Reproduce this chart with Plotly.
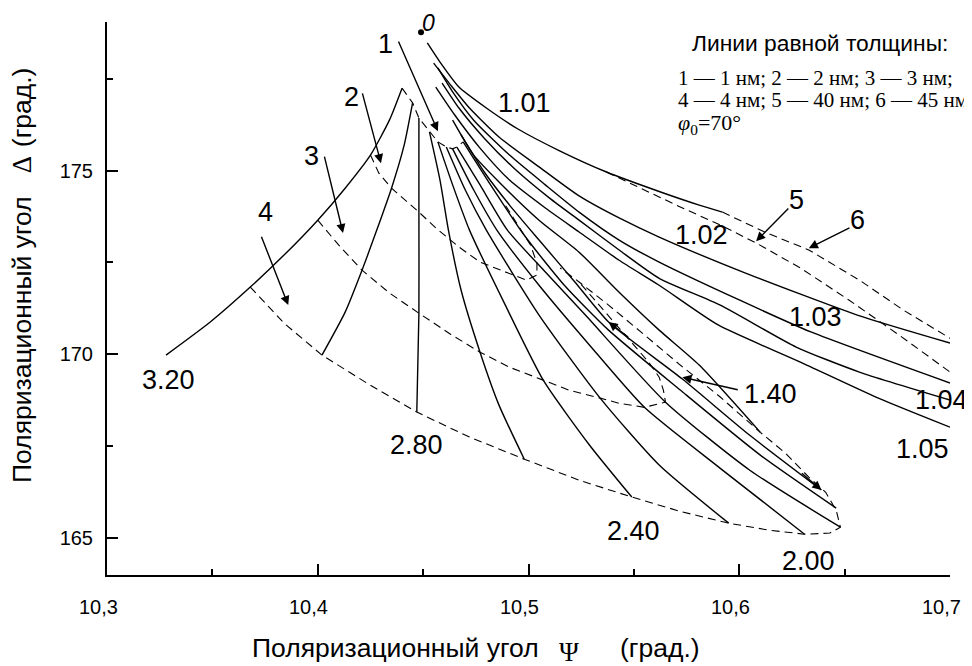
import plotly.graph_objects as go

SANS = "Liberation Sans, Arial, sans-serif"
SERIF = "Liberation Serif, Times New Roman, serif"

# ---------------- data (Psi, Delta in degrees) ----------------
# point 0 (bare substrate)
psi_0 = [10.449]
delta_0 = [178.76]

# lines of equal refractive index n (solid)
psi_n101 = [10.452, 10.458, 10.467, 10.480, 10.495, 10.515, 10.537, 10.563, 10.581, 10.592]
delta_n101 = [178.47, 177.95, 177.27, 176.70, 176.13, 175.53, 174.96, 174.41, 174.06, 173.87]

psi_n102 = [10.455, 10.463, 10.472, 10.486, 10.505, 10.524, 10.543, 10.562, 10.603, 10.656, 10.700]
delta_n102 = [177.92, 177.33, 176.70, 175.91, 175.10, 174.31, 173.71, 173.19, 172.21, 171.07, 170.31]

psi_n103 = [10.457, 10.464, 10.474, 10.491, 10.508, 10.524, 10.543, 10.562, 10.600, 10.634, 10.700]
delta_n103 = [177.79, 177.14, 176.37, 175.42, 174.61, 173.87, 173.11, 172.51, 171.48, 170.61, 169.22]

psi_n104 = [10.459, 10.467, 10.479, 10.493, 10.510, 10.524, 10.543, 10.562, 10.591, 10.627, 10.657, 10.700]
delta_n104 = [177.38, 176.70, 175.88, 175.07, 174.25, 173.65, 172.84, 172.07, 171.34, 170.20, 169.52, 168.76]

psi_n105 = [10.456, 10.465, 10.477, 10.491, 10.508, 10.524, 10.543, 10.562, 10.590, 10.629, 10.666, 10.700]
delta_n105 = [177.27, 176.51, 175.61, 174.74, 173.98, 173.33, 172.56, 171.88, 170.80, 169.79, 168.81, 168.02]

psi_n120 = [10.464, 10.474, 10.486, 10.505, 10.524, 10.543, 10.562, 10.581, 10.610]
delta_n120 = [176.37, 175.42, 174.69, 173.65, 172.78, 171.69, 170.66, 169.71, 167.88]

psi_n140 = [10.468, 10.479, 10.491, 10.505, 10.522, 10.538, 10.573, 10.605, 10.639]
delta_n140 = [175.97, 174.96, 174.06, 173.11, 171.97, 170.88, 169.33, 167.80, 166.31]

psi_n160 = [10.469, 10.482, 10.498, 10.517, 10.538, 10.572, 10.610, 10.646]
delta_n160 = [175.78, 174.61, 173.24, 171.88, 170.66, 169.03, 167.26, 165.82]

psi_n180 = [10.466, 10.477, 10.490, 10.508, 10.527, 10.565, 10.605, 10.648]
delta_n180 = [175.64, 174.61, 173.38, 172.24, 171.07, 168.70, 166.85, 165.30]

psi_n200 = [10.464, 10.474, 10.485, 10.505, 10.529, 10.555, 10.591, 10.631]
delta_n200 = [175.59, 174.47, 173.38, 171.88, 170.25, 168.56, 166.90, 165.11]

psi_n220 = [10.461, 10.470, 10.480, 10.505, 10.534, 10.562, 10.595]
delta_n220 = [175.64, 174.47, 173.38, 171.07, 168.81, 166.99, 165.41]

psi_n240 = [10.457, 10.464, 10.472, 10.489, 10.507, 10.529, 10.549]
delta_n240 = [175.78, 174.61, 173.38, 171.34, 169.30, 167.53, 166.12]

psi_n260 = [10.453, 10.458, 10.462, 10.468, 10.477, 10.486, 10.498]
delta_n260 = [176.05, 174.74, 173.38, 171.75, 170.06, 168.62, 167.15]

psi_n280 = [10.448, 10.448, 10.448, 10.447]
delta_n280 = [176.43, 173.92, 171.12, 168.43]

psi_n300 = [10.445, 10.441, 10.435, 10.428, 10.421, 10.413, 10.402]
delta_n300 = [176.84, 175.69, 174.52, 173.38, 172.29, 171.15, 169.98]

psi_n320 = [10.440, 10.434, 10.425, 10.413, 10.400, 10.384, 10.368, 10.349, 10.328]
delta_n320 = [177.24, 176.37, 175.42, 174.52, 173.65, 172.70, 171.83, 170.88, 169.98]

# lines of equal thickness (dashed): 1, 2, 3, 4, 40, 45 nm
psi_d1 = [10.440, 10.445, 10.448, 10.453, 10.457, 10.461, 10.464, 10.466, 10.469]
delta_d1 = [177.24, 176.84, 176.43, 176.05, 175.78, 175.64, 175.59, 175.64, 175.78]

psi_d2 = [10.425, 10.429, 10.435, 10.448, 10.456, 10.467, 10.477, 10.490, 10.499, 10.504, 10.504, 10.501, 10.495, 10.489]
delta_d2 = [175.42, 174.93, 174.52, 173.87, 173.44, 172.92, 172.51, 172.21, 172.02, 172.16, 172.48, 172.97, 173.52, 174.06]

psi_d3 = [10.400, 10.410, 10.421, 10.434, 10.448, 10.463, 10.477, 10.491, 10.507, 10.519, 10.534, 10.543,
          10.555, 10.565, 10.564, 10.562, 10.557, 10.552, 10.546, 10.538, 10.531, 10.524]
delta_d3 = [173.65, 172.97, 172.29, 171.67, 171.12, 170.55, 170.06, 169.65, 169.30, 169.03, 168.81, 168.67,
            168.56, 168.70, 169.03, 169.38, 169.79, 170.12, 170.52, 171.07, 171.53, 171.97]

psi_d4 = [10.368, 10.384, 10.402, 10.425, 10.447, 10.472, 10.498, 10.524, 10.549, 10.572, 10.595, 10.614,
          10.631, 10.643, 10.648, 10.646, 10.641, 10.633, 10.622, 10.610, 10.591, 10.572, 10.554, 10.538,
          10.524, 10.515]
delta_d4 = [171.83, 170.85, 169.98, 169.16, 168.43, 167.75, 167.15, 166.58, 166.12, 165.73, 165.41, 165.22,
            165.11, 165.14, 165.30, 165.76, 166.25, 166.66, 167.31, 167.88, 168.84, 169.71, 170.58, 171.34,
            171.97, 172.35]

psi_d40 = [10.537, 10.553, 10.572, 10.591, 10.608, 10.629, 10.652, 10.676, 10.700]
delta_d40 = [174.96, 174.52, 174.01, 173.52, 173.03, 172.35, 171.48, 170.52, 169.52]

psi_d45 = [10.592, 10.612, 10.633, 10.657, 10.678, 10.700]
delta_d45 = [173.87, 173.33, 172.84, 172.02, 171.20, 170.44]

# curve labels
curve_labels = ["1.01", "1.02", "1.03", "1.04", "1.05", "1.40", "3.20", "2.80", "2.40", "2.00"]
curve_label_psi = [10.498, 10.582, 10.636, 10.696, 10.687, 10.615, 10.329, 10.447, 10.550, 10.633]
curve_label_delta = [176.84, 173.24, 171.01, 168.76, 167.42, 168.92, 169.30, 167.53, 165.19, 164.37]

# thickness-line labels with arrows: (label, label pos, arrow tail, arrow head)
thick_labels = ["1", "2", "3", "4", "5", "6"]
thick_label_psi = [10.432, 10.416, 10.397, 10.375, 10.627, 10.656]
thick_label_delta = [178.44, 177.00, 175.39, 173.87, 174.20, 173.65]
arrow_tail_psi = [10.438, 10.421, 10.403, 10.373, 10.624, 10.653]
arrow_tail_delta = [178.55, 177.14, 175.42, 173.24, 174.01, 173.46]
arrow_head_psi = [10.457, 10.430, 10.412, 10.386, 10.608, 10.633]
arrow_head_delta = [176.07, 175.20, 173.30, 171.34, 173.08, 172.89]

x_ticks = [10.3, 10.4, 10.5, 10.6, 10.7]
x_ticktext = ["10,3", "10,4", "10,5", "10,6", "10,7"]
x_minor = [10.35, 10.45, 10.55, 10.65]
y_ticks = [165, 170, 175]
y_minor = [167.5, 172.5, 177.5]

# ---------------- figure ----------------
fig = go.Figure()

solid_curves = [
    (psi_n101, delta_n101), (psi_n102, delta_n102), (psi_n103, delta_n103),
    (psi_n104, delta_n104), (psi_n105, delta_n105), (psi_n120, delta_n120),
    (psi_n140, delta_n140), (psi_n160, delta_n160), (psi_n180, delta_n180),
    (psi_n200, delta_n200), (psi_n220, delta_n220), (psi_n240, delta_n240),
    (psi_n260, delta_n260), (psi_n280, delta_n280), (psi_n300, delta_n300),
    (psi_n320, delta_n320),
]
for px, dy in solid_curves:
    fig.add_trace(go.Scatter(x=px, y=dy, mode="lines",
                             line=dict(color="black", width=1.4, shape="spline", smoothing=0.6),
                             hoverinfo="skip", showlegend=False))

dashed_curves = [(psi_d1, delta_d1), (psi_d2, delta_d2), (psi_d3, delta_d3),
                 (psi_d4, delta_d4), (psi_d40, delta_d40), (psi_d45, delta_d45)]
for px, dy in dashed_curves:
    fig.add_trace(go.Scatter(x=px, y=dy, mode="lines",
                             line=dict(color="black", width=1.1, dash="8px,5px"),
                             hoverinfo="skip", showlegend=False))

fig.add_trace(go.Scatter(x=psi_0, y=delta_0, mode="markers",
                         marker=dict(color="black", size=6), hoverinfo="skip", showlegend=False))

ann = []
# label "0"
ann.append(dict(x=psi_0[0], y=delta_0[0], xref="x", yref="y", text="<i>0</i>", showarrow=False,
                xshift=7, yshift=9, font=dict(family=SANS, size=23, color="black")))

for t, px, dy in zip(curve_labels, curve_label_psi, curve_label_delta):
    ann.append(dict(x=px, y=dy, xref="x", yref="y", text=t, showarrow=False,
                    font=dict(family=SANS, size=27, color="black")))

for t, lx, ly in zip(thick_labels, thick_label_psi, thick_label_delta):
    ann.append(dict(x=lx, y=ly, xref="x", yref="y", text=t, showarrow=False,
                    font=dict(family=SANS, size=27, color="black")))

for tx, ty, hx, hy in zip(arrow_tail_psi, arrow_tail_delta, arrow_head_psi, arrow_head_delta):
    ann.append(dict(x=hx, y=hy, ax=tx, ay=ty, xref="x", yref="y", axref="x", ayref="y",
                    text="", showarrow=True, arrowhead=2, arrowsize=1.3, arrowwidth=1.4,
                    arrowcolor="black", standoff=0, startstandoff=0))

# arrow from "1.40" label and arrowheads on the 1.40 curve
for tx, ty, hx, hy in [(10.600, 169.03, 10.573, 169.38),
                       (10.629, 166.80, 10.639, 166.31),
                       (10.548, 170.44, 10.538, 170.88)]:
    ann.append(dict(x=hx, y=hy, ax=tx, ay=ty, xref="x", yref="y", axref="x", ayref="y",
                    text="", showarrow=True, arrowhead=2, arrowsize=1.3, arrowwidth=1.4,
                    arrowcolor="black", standoff=0, startstandoff=0))

# x tick labels (sit slightly left of their ticks, as in the original)
for v, t in zip(x_ticks, x_ticktext):
    ann.append(dict(x=v, y=0, xref="x", yref="paper", text=t, showarrow=False,
                    xanchor="center", yanchor="middle", xshift=-9, yshift=-32,
                    font=dict(family=SANS, size=20, color="black")))

# legend text block (top right)
ann.append(dict(x=0.846, y=0.962, xref="paper", yref="paper", text="Линии равной толщины:",
                showarrow=False, xanchor="center", yanchor="middle",
                font=dict(family=SANS, size=22.8, color="black")))
ann.append(dict(x=0.675, y=0.899, xref="paper", yref="paper", text="1 — 1 нм; 2 — 2 нм; 3 — 3 нм;",
                showarrow=False, xanchor="left", yanchor="middle",
                font=dict(family=SERIF, size=21, color="black")))
ann.append(dict(x=0.675, y=0.859, xref="paper", yref="paper", text="4 — 4 нм; 5 — 40 нм; 6 — 45 нм",
                showarrow=False, xanchor="left", yanchor="middle",
                font=dict(family=SERIF, size=21, color="black")))
ann.append(dict(x=0.675, y=0.815, xref="paper", yref="paper", text="<i>φ</i><sub>0</sub>=70°",
                showarrow=False, xanchor="left", yanchor="middle",
                font=dict(family=SERIF, size=22, color="black")))

# x-axis title pieces
ann.append(dict(x=0.170, y=-0.132, xref="paper", yref="paper", text="Поляризационный угол",
                showarrow=False, xanchor="left", yanchor="middle",
                font=dict(family=SANS, size=26.5, color="black")))
ann.append(dict(x=0.548, y=-0.139, xref="paper", yref="paper", text="Ψ",
                showarrow=False, xanchor="center", yanchor="middle",
                font=dict(family=SERIF, size=27, color="black")))
ann.append(dict(x=0.606, y=-0.132, xref="paper", yref="paper", text="(град.)",
                showarrow=False, xanchor="left", yanchor="middle",
                font=dict(family=SANS, size=26.5, color="black")))

# y-axis title pieces (rotated)
ann.append(dict(x=-0.1008, y=0.425, xref="paper", yref="paper", text="Поляризационный угол",
                showarrow=False, textangle=-90, xanchor="center", yanchor="middle",
                font=dict(family=SANS, size=26.5, color="black")))
ann.append(dict(x=-0.1008, y=0.741, xref="paper", yref="paper", text="Δ",
                showarrow=False, textangle=-90, xanchor="center", yanchor="middle",
                font=dict(family=SERIF, size=27, color="black")))
ann.append(dict(x=-0.1008, y=0.846, xref="paper", yref="paper", text="(град.)",
                showarrow=False, textangle=-90, xanchor="center", yanchor="middle",
                font=dict(family=SANS, size=26.5, color="black")))

# page body has an 8px margin: figure is 964x658 so the plot area lands at 107..950 x 22..575
fig.update_layout(
    width=964, height=658,
    margin=dict(l=99, r=22, t=14, b=91),
    paper_bgcolor="white", plot_bgcolor="white",
    showlegend=False,
    annotations=ann,
    xaxis=dict(range=[10.3, 10.7], tickvals=x_ticks, showticklabels=False,
               ticks="inside", ticklen=11, tickwidth=2, tickcolor="black",
               showline=True, linecolor="black", linewidth=2,
               showgrid=False, zeroline=False,
               minor=dict(tickvals=x_minor, ticks="inside", ticklen=6, tickwidth=1.5,
                          tickcolor="black", showgrid=False)),
    yaxis=dict(range=[164.0, 179.04], tickvals=y_ticks,
               ticks="inside", ticklen=11, tickwidth=2, tickcolor="black",
               showline=True, linecolor="black", linewidth=2,
               showgrid=False, zeroline=False,
               tickfont=dict(family=SANS, size=20, color="black"),
               ticklabelstandoff=8,
               minor=dict(tickvals=y_minor, ticks="inside", ticklen=6, tickwidth=1.5,
                          tickcolor="black", showgrid=False)),
)

fig.write_html("out.html")
